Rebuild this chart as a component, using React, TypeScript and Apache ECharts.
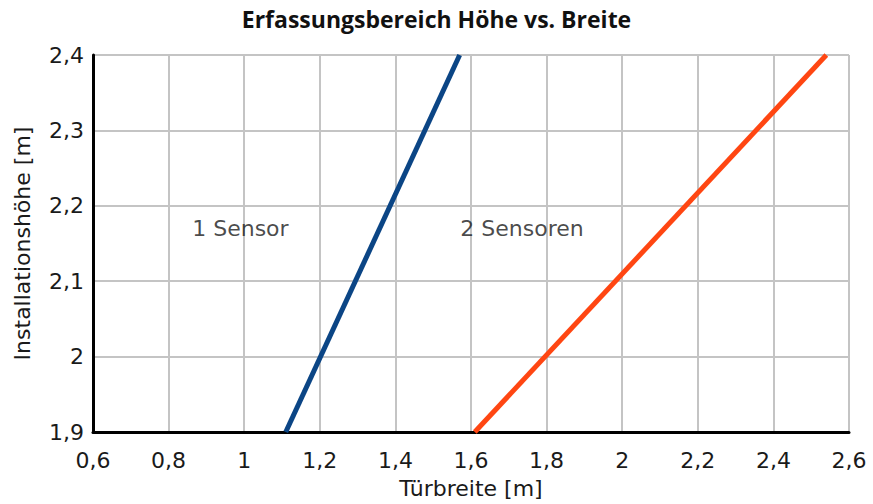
import React, { useEffect, useRef } from "react";
import * as echarts from "echarts";

const blueLine: [number, number][] = [[1.11, 1.9], [1.57, 2.4]];
const orangeLine: [number, number][] = [[1.61, 1.9], [2.54, 2.4]];
const annotations: { name: string; value: [number, number] }[] = [
  { name: "1 Sensor", value: [0.99, 2.17] },
  { name: "2 Sensoren", value: [1.735, 2.17] },
];
const titleText = "Erfassungsbereich Höhe vs. Breite";
const xName = "Türbreite [m]";
const yName = "Installationshöhe [m]";

const fmt = (v: number) => {
  const r = Math.round(v * 10) / 10;
  return String(r).replace(".", ",");
};

const FONT = "DejaVu Sans";
const TXT = "#1a1a1a";

export default function App() {
  const ref = useRef<HTMLDivElement>(null);
  useEffect(() => {
    const chart = echarts.init(ref.current!, null, { renderer: "svg" });
    chart.setOption({
      animation: false,
      backgroundColor: "#fff",
      textStyle: { fontFamily: FONT },
      title: {
        text: titleText,
        left: "center",
        top: 2,
        textStyle: { fontFamily: "Open Sans", fontSize: 23, fontWeight: "bold", color: "#111" },
      },
      grid: { left: 93, right: 24, top: 55, bottom: 72, containLabel: false, outerBoundsMode: "none" },
      xAxis: {
        type: "value",
        min: 0.6,
        max: 2.6,
        interval: 0.2,
        name: xName,
        nameLocation: "middle",
        nameGap: 45,
        nameTextStyle: { fontSize: 22, color: TXT, fontFamily: FONT },
        axisLine: { show: true, onZero: false, lineStyle: { color: "#000", width: 3 } },
        axisTick: { show: false },
        axisLabel: { formatter: fmt, fontSize: 22, color: TXT, margin: 17, fontFamily: FONT },
        splitLine: { show: true, lineStyle: { color: "#c4c4c4", width: 2 } },
      },
      yAxis: {
        type: "value",
        min: 1.9,
        max: 2.4,
        interval: 0.1,
        name: yName,
        nameLocation: "middle",
        nameGap: 60,
        nameTextStyle: { fontSize: 22, color: TXT, fontFamily: FONT },
        axisLine: { show: true, onZero: false, lineStyle: { color: "#000", width: 3 } },
        axisTick: { show: false },
        axisLabel: { formatter: fmt, fontSize: 22, color: TXT, margin: 9, fontFamily: FONT },
        splitLine: { show: true, lineStyle: { color: "#c4c4c4", width: 2 } },
      },
      series: [
        {
          type: "line",
          data: blueLine,
          symbol: "none",
          lineStyle: { color: "#0b4585", width: 5 },
          clip: true,
          z: 3,
        },
        {
          type: "line",
          data: orangeLine,
          symbol: "none",
          lineStyle: { color: "#ff4612", width: 5 },
          clip: true,
          z: 3,
        },
        {
          type: "scatter",
          data: annotations,
          symbolSize: 0,
          silent: true,
          label: {
            show: true,
            position: "inside",
            formatter: (p: any) => p.name,
            fontSize: 22,
            color: TXT,
            fontFamily: FONT,
          },
        },
      ],
    });
    return () => chart.dispose();
  }, []);
  return <div ref={ref} style={{ width: 873, height: 504, position: "absolute", left: 0, top: 0 }} />;
}
